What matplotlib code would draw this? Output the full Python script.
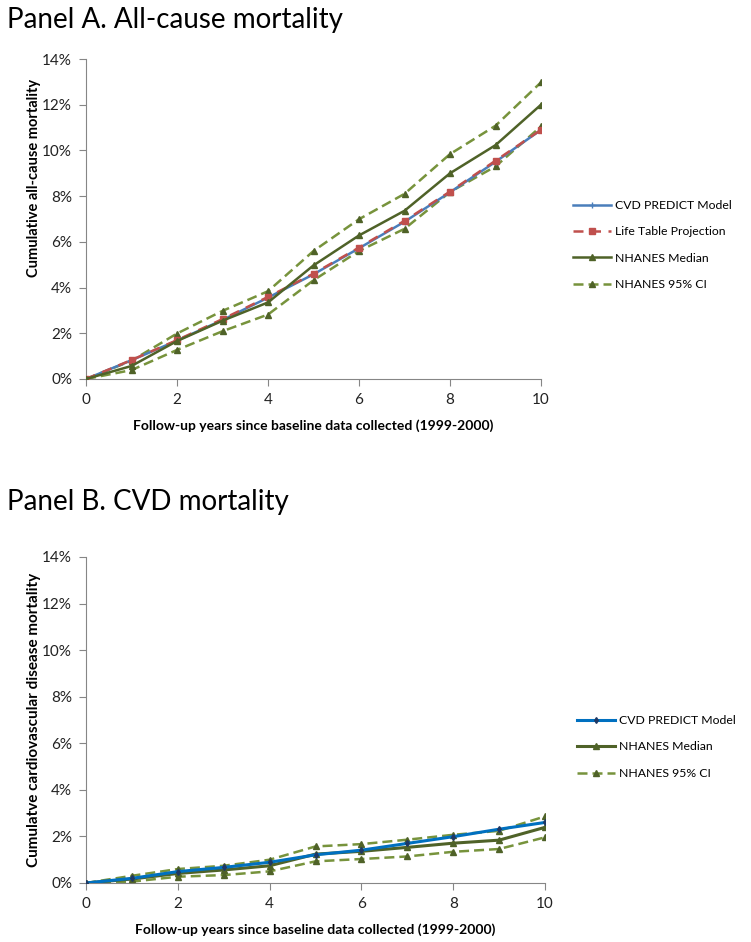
import matplotlib
matplotlib.use("Agg")
import matplotlib.pyplot as plt
from matplotlib.ticker import PercentFormatter

plt.rcParams['font.family'] = ['Lato', 'DejaVu Sans']

years = list(range(11))

# Panel A, all-cause mortality (%)
a_model = [0, 0.82, 1.68, 2.58, 3.56, 4.58, 5.72, 6.88, 8.17, 9.5, 10.9]
a_lifetable = [0, 0.83, 1.7, 2.62, 3.59, 4.61, 5.75, 6.92, 8.2, 9.55, 10.9]
a_median = [0, 0.57, 1.66, 2.55, 3.35, 4.97, 6.28, 7.36, 9.0, 10.23, 12.0]
a_ci_hi = [0, 0.8, 1.99, 2.98, 3.84, 5.6, 6.99, 8.1, 9.84, 11.08, 12.98]
a_ci_lo = [0, 0.39, 1.27, 2.09, 2.82, 4.32, 5.6, 6.57, 8.18, 9.3, 11.05]

# Panel B, CVD mortality (%)
b_model = [0, 0.2, 0.49, 0.67, 0.89, 1.21, 1.41, 1.7, 1.99, 2.31, 2.6]
b_median = [0, 0.17, 0.41, 0.56, 0.74, 1.24, 1.36, 1.53, 1.71, 1.84, 2.39]
b_ci_hi = [0, 0.31, 0.6, 0.74, 1.0, 1.57, 1.67, 1.86, 2.07, 2.24, 2.86]
b_ci_lo = [0, 0.06, 0.27, 0.34, 0.5, 0.93, 1.03, 1.14, 1.34, 1.46, 1.96]

xlabel = "Follow-up years since baseline data collected (1999-2000)"
grey = "#868686"
median_col = "#4F6228"
ci_col = "#77933C"

fig = plt.figure(figsize=(7.51, 9.42), dpi=100)
axA = fig.add_axes([86 / 751, 1 - 379 / 942, 455 / 751, 320 / 942])
axB = fig.add_axes([86 / 751, 1 - 883 / 942, 459 / 751, 326 / 942])


def style(ax, ylabel, ysize, ypos):
    ax.set_xlim(0, 10)
    ax.set_ylim(0, 14)
    ax.set_xticks(range(0, 11, 2))
    ax.set_yticks(range(0, 15, 2))
    ax.yaxis.set_major_formatter(PercentFormatter(decimals=0))
    for s in ("top", "right"):
        ax.spines[s].set_visible(False)
    for s in ("left", "bottom"):
        ax.spines[s].set_color(grey)
    ax.tick_params(colors=grey, labelcolor="#222222", labelsize=11, length=5, pad=5)
    ax.set_xlabel(xlabel, fontsize=10, fontweight="bold", labelpad=9)
    ax.set_ylabel(ylabel, fontsize=ysize, fontweight="bold")
    ax.yaxis.set_label_coords(-0.098, ypos)


def legend(ax, x, y):
    ax.legend(loc="center left", bbox_to_anchor=(x / 751, 1 - y / 942), bbox_transform=fig.transFigure,
              frameon=False, fontsize=8.8, handlelength=3.1, handletextpad=0.3, labelspacing=1.25,
              borderpad=0, borderaxespad=0)


# Panel A
axA.plot(years, a_model, color="#4A7EBB", lw=1.8, marker="+", ms=4, label="CVD PREDICT Model", zorder=3)
axA.plot(years, a_lifetable, color="#C0504D", lw=1.8, ls=(0, (4, 3)), marker="s", ms=4.5,
         label="Life Table Projection", zorder=4)
axA.plot(years, a_median, color=median_col, lw=1.8, marker="^", ms=4.5, label="NHANES Median", zorder=5)
axA.plot(years, a_ci_hi, color=ci_col, lw=1.8, ls=(0, (4, 2)), marker="^", ms=4.5,
         mfc=median_col, mec=median_col, label="NHANES 95% CI", zorder=2)
axA.plot(years, a_ci_lo, color=ci_col, lw=1.8, ls=(0, (4, 2)), marker="^", ms=4.5,
         mfc=median_col, mec=median_col, zorder=2)
style(axA, "Cumulative all-cause mortality", 10.5, 0.627)
legend(axA, 573, 245)
fig.text(7 / 751, 1 - 20 / 942, "Panel A. All-cause mortality", fontsize=20, va="center", ha="left")

# Panel B
axB.plot(years, b_model, color="#0070C0", lw=2.2, marker="d", ms=3, mfc="#1F3864", mec="#1F3864",
         label="CVD PREDICT Model", zorder=4)
axB.plot(years, b_median, color=median_col, lw=2.2, marker="^", ms=5, label="NHANES Median", zorder=3)
axB.plot(years, b_ci_hi, color=ci_col, lw=1.8, ls=(0, (4, 2)), marker="^", ms=5,
         mfc=median_col, mec=median_col, label="NHANES 95% CI", zorder=2)
axB.plot(years, b_ci_lo, color=ci_col, lw=1.8, ls=(0, (4, 2)), marker="^", ms=5,
         mfc=median_col, mec=median_col, zorder=2)
style(axB, "Cumulatve cardiovascular disease mortality", 11, 0.5)
legend(axB, 577, 747)
fig.text(7 / 751, 1 - 502 / 942, "Panel B. CVD mortality", fontsize=20, va="center", ha="left")

fig.savefig("out.png", dpi=100, facecolor="white")
